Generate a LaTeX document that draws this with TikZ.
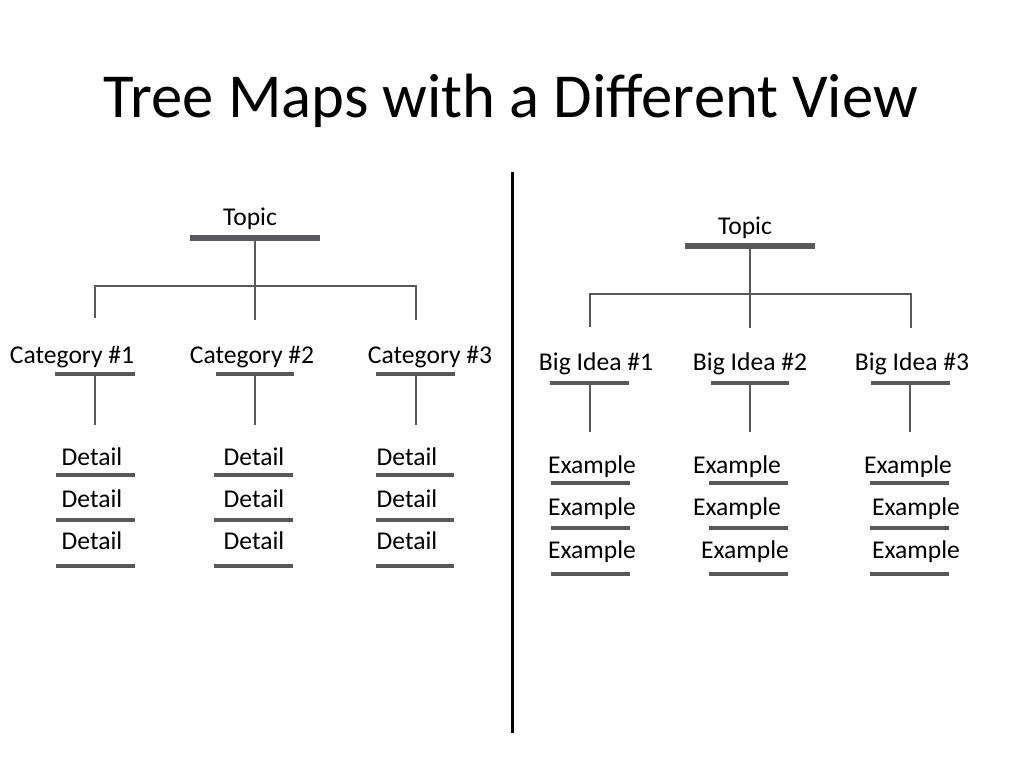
\documentclass[tikz,border=0pt]{standalone}
\usepackage{fontspec}
\setmainfont{Carlito}
\definecolor{linegray}{RGB}{88,88,92}
\begin{document}
\begin{tikzpicture}[x=1pt,y=-1pt,
  lbl/.style={font=\fontsize{25.6}{30}\selectfont, anchor=base, inner sep=0pt},
  titlestyle/.style={font=\fontsize{62.6}{70}\selectfont, anchor=base, inner sep=0pt},
  topbar/.style={draw=linegray, line width=6pt},
  linebar/.style={draw=linegray, line width=3.5pt},
  conn/.style={draw=linegray, line width=2.6pt},
  divider/.style={draw=black, line width=3pt}]
\useasboundingbox (0,0) rectangle (1024,768);

\node[titlestyle] (title) at (511,117) {Tree Maps with a Different View};

% divider
\coordinate (dtop) at (512,172);
\coordinate (dbot) at (512,733);
\draw[divider] (dtop) -- (dbot);

% ---------------- left tree ----------------
\node[lbl] (ltopic) at (250,225) {Topic};
\coordinate (ltbL) at (190,238); \coordinate (ltbR) at (320,238);
\draw[topbar] (ltbL) -- (ltbR);
\coordinate (ltb) at (255,238);
\coordinate (lj1) at (95,286); \coordinate (lj2) at (255,286); \coordinate (lj3) at (416,286);
\coordinate (le1) at (95,318); \coordinate (le2) at (255,320); \coordinate (le3) at (416,320);
\draw[conn] (ltb) -- (le2);
\draw[conn] (le1) -- (lj1) -- (lj3) -- (le3);

\node[lbl] (cat1) at (72,363) {Category \#1};
\node[lbl] (cat2) at (252,363) {Category \#2};
\node[lbl] (cat3) at (430,363) {Category \#3};

\foreach \i/\a/\b/\c in {1/55/135/95, 2/216/294/255, 3/376/455/416}{
  \coordinate (cb\i L) at (\a,374); \coordinate (cb\i R) at (\b,374);
  \coordinate (cb\i) at (\c,374); \coordinate (cv\i) at (\c,425);
  \draw[linebar] (cb\i L) -- (cb\i R);
  \draw[conn] (cb\i) -- (cv\i);
}

\foreach \col/\xc/\a/\b in {1/92/56/135, 2/254/214/293, 3/407/376/454}{
  \foreach \row/\yb/\yl in {1/465/475, 2/507/520, 3/549/566}{
    \node[lbl] (det\col\row) at (\xc,\yb) {Detail};
    \coordinate (db\col\row L) at (\a,\yl); \coordinate (db\col\row R) at (\b,\yl);
    \draw[linebar] (db\col\row L) -- (db\col\row R);
  }
}

% ---------------- right tree ----------------
\node[lbl] (rtopic) at (745,234) {Topic};
\coordinate (rtbL) at (685,246); \coordinate (rtbR) at (815,246);
\draw[topbar] (rtbL) -- (rtbR);
\coordinate (rtb) at (750,246);
\coordinate (rj1) at (590,294); \coordinate (rj2) at (750,294); \coordinate (rj3) at (911,294);
\coordinate (re1) at (590,327); \coordinate (re2) at (750,328); \coordinate (re3) at (911,328);
\draw[conn] (rtb) -- (re2);
\draw[conn] (re1) -- (rj1) -- (rj3) -- (re3);

\node[lbl] (big1) at (596,370) {Big Idea \#1};
\node[lbl] (big2) at (750,370) {Big Idea \#2};
\node[lbl] (big3) at (912,370) {Big Idea \#3};

\foreach \i/\a/\b/\c in {1/550/629/590, 2/711/789/750, 3/871/950/910}{
  \coordinate (bb\i L) at (\a,383); \coordinate (bb\i R) at (\b,383);
  \coordinate (bb\i) at (\c,383); \coordinate (bv\i) at (\c,432);
  \draw[linebar] (bb\i L) -- (bb\i R);
  \draw[conn] (bb\i) -- (bv\i);
}

\foreach \col/\row/\xc/\yb in {1/1/592/473, 1/2/592/515, 1/3/592/558,
                               2/1/737/473, 2/2/737/515, 2/3/745/558,
                               3/1/908/473, 3/2/916/515, 3/3/916/558}{
  \node[lbl] (ex\col\row) at (\xc,\yb) {Example};
}
\foreach \col/\a/\b in {1/551/630, 2/709/788, 3/870/949}{
  \foreach \row/\yl in {1/483, 2/528, 3/574}{
    \coordinate (eb\col\row L) at (\a,\yl); \coordinate (eb\col\row R) at (\b,\yl);
    \draw[linebar] (eb\col\row L) -- (eb\col\row R);
  }
}
\end{tikzpicture}
\end{document}
